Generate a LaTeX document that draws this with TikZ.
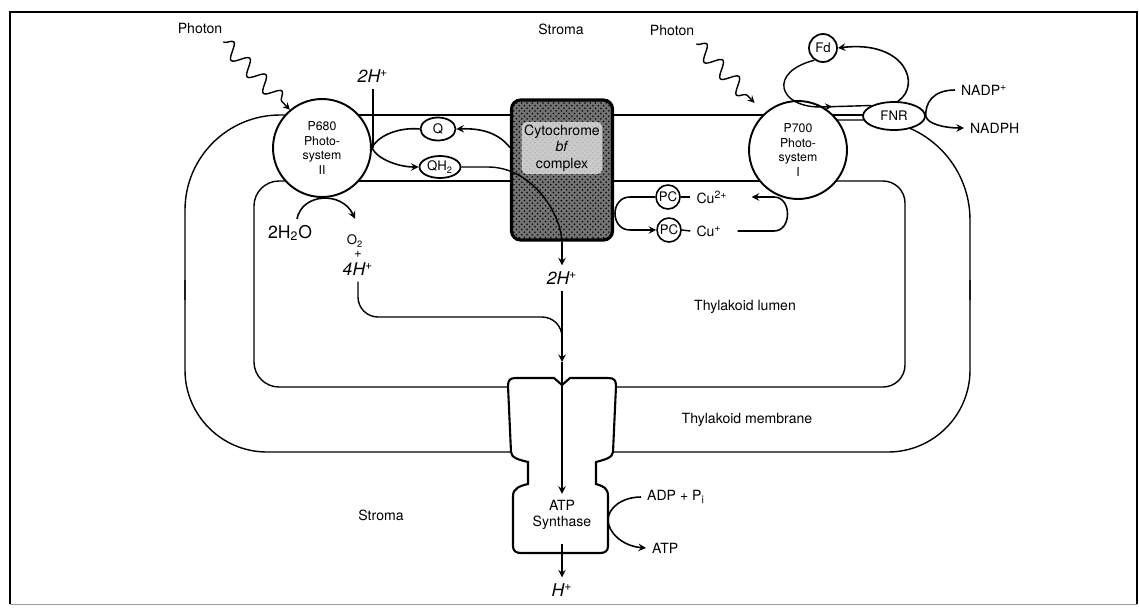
\documentclass[tikz,border=0pt]{standalone}
\usepackage{fontspec}
\setmainfont{TeX Gyre Heros}
\usetikzlibrary{shapes.geometric, decorations.pathmorphing, decorations.markings, patterns}

\tikzset{
  memb/.style={line width=0.8pt},
  flow/.style={->, line width=0.9pt},
  psys/.style={circle, draw, line width=1.1pt, fill=white, minimum size=1.96cm, inner sep=0pt, align=center, font=\fontsize{7}{8.5}\selectfont},
  carrier/.style={ellipse, draw, line width=1pt, fill=white, inner sep=0pt, font=\fontsize{7.5}{8}\selectfont},
  pcnode/.style={circle, draw, line width=0.9pt, fill=white, inner sep=0pt, minimum size=0.48cm, font=\fontsize{7.5}{8}\selectfont},
  lbl/.style={font=\fontsize{8}{9.5}\selectfont},
  hand/.style={font=\itshape\fontsize{10}{12}\selectfont},
  photon/.style={->, line width=0.8pt, decorate, decoration={snake, amplitude=1.5mm, segment length=4.6mm, post length=1.5mm}},
  cytbox/.style={draw, line width=1.8pt, rounded corners=0.18cm, minimum width=2.02cm, minimum height=2.8cm, preaction={fill=black!55}, pattern=crosshatch dots, pattern color=black},
  synth/.style={line width=1.2pt, fill=white},
}

\begin{document}
\begin{tikzpicture}[x=0.02cm, y=-0.02cm, >=stealth]
  \useasboundingbox (0,0) rectangle (1139,609);

  % Frame
  \draw[line width=1.6pt] (10,604) -- (10,12) -- (1137,12) -- (1137,604);
  \draw[line width=0.4pt, black!40] (10,604) -- (1137,604);

  % Outer membrane
  \draw[memb] (322,115) -- (894,115);
  \draw[memb, rounded corners=1.9cm] (322,115) -- (185,115) -- (185,300);
  \draw[memb, rounded corners=1.64cm] (185,280) -- (185,452) -- (562,452);
  \draw[memb, rounded corners=1.64cm] (562,452) -- (970,452) -- (970,280);
  \draw[memb, rounded corners=2cm] (970,300) -- (970,120) -- (798,120);

  % Inner membrane (lumen)
  \draw[memb] (322,181) -- (798,181);
  \draw[memb, rounded corners=0.5cm] (322,181) -- (254,181) -- (254,387) -- (562,387);
  \draw[memb, rounded corners=0.44cm] (798,181) -- (905,181) -- (905,387) -- (562,387);

  % ATP synthase
  \draw[synth] (511,452) -- (508,386) .. controls (508,380) and (510,378) .. (516,378) -- (554,378) -- (562,385) -- (570,378) -- (608,378)
    .. controls (614,378) and (616,380) .. (616,386) -- (613,452) .. controls (613,458) and (603,460) .. (596,462) -- (596,484)
    .. controls (603,486) and (608,488) .. (608,496) -- (608,546) .. controls (608,551) and (605,553) .. (600,553) -- (521,553)
    .. controls (516,553) and (513,551) .. (513,546) -- (513,496) .. controls (513,488) and (520,486) .. (528,484) -- (528,462)
    .. controls (520,460) and (511,458) .. (511,452) -- cycle;
  \node[lbl, align=center] (atp) at (562,515) {ATP\\Synthase};

  % Complexes and carriers
  \node[psys] (pII) at (322,148) {P680\\Photo-\\system\\II};
  \node[psys] (pI) at (798,150) {P700\\Photo-\\system\\I};
  \node[cytbox] (cyt) at (562,170) {};
  \node[lbl, align=center, fill=black!12, fill opacity=0.8, text opacity=1, rounded corners=3pt, inner sep=1.5pt] (cyttxt) at (562,148) {Cytochrome\\\textit{bf}\\complex};
  \node[carrier, minimum width=0.7cm, minimum height=0.46cm] (q) at (438,129) {Q};
  \node[carrier, minimum width=0.82cm, minimum height=0.44cm] (qh) at (440,167) {QH\textsubscript{2}};
  \node[pcnode] (pc1) at (668,197) {PC};
  \node[pcnode] (pc2) at (669,230) {PC};
  \node[carrier, circle, minimum size=0.56cm] (fd) at (823,48) {Fd};
  \node[carrier, minimum width=1.24cm, minimum height=0.56cm] (fnr) at (894,116) {FNR};

  % Labels
  \node[lbl] (ph1) at (200,28) {Photon};
  \node[lbl] (ph2) at (672,30) {Photon};
  \node[lbl] (stromatop) at (561,29) {Stroma};
  \node[lbl] (stromabot) at (381,515) {Stroma};
  \node[lbl] (lumen) at (745,307) {Thylakoid lumen};
  \node[lbl] (membrane) at (747,420) {Thylakoid membrane};
  \node[hand] (h2a) at (373,76) {2H\textsuperscript{+}};
  \node[hand, font=\fontsize{10}{12}\selectfont] (h2o) at (290,233) {2H\textsubscript{2}O};
  \node[lbl, font=\fontsize{7.5}{8}\selectfont] (o2) at (355,241) {O\textsubscript{2}};
  \node[lbl, font=\fontsize{7.5}{8}\selectfont] (plus) at (358,254) {+};
  \node[hand] (h4) at (358,269) {4H\textsuperscript{+}};
  \node[hand] (h2b) at (562,278) {2H\textsuperscript{+}};
  \node[hand] (hout) at (562,590) {H\textsuperscript{+}};
  \node[lbl] (cu1) at (712,197) {Cu\textsuperscript{2+}};
  \node[lbl] (cu2) at (709,231) {Cu\textsuperscript{+}};
  \node[lbl, anchor=west] (nadp) at (955,90) {NADP\textsuperscript{+}};
  \node[lbl, anchor=west] (nadph) at (964,128) {NADPH};
  \node[lbl, anchor=west] (adp) at (641,497) {ADP + P\textsubscript{i}};
  \node[lbl, anchor=west] (atpout) at (646,548) {ATP};

  % Photons
  \draw[photon] ([xshift=-0.1cm, yshift=-0.05cm]ph1.south east) -- (pII.130);
  \draw[photon] ([xshift=-0.08cm, yshift=-0.05cm]ph2.south east) -- ([shift={(-0.2cm,0.2cm)}]pI.132);

  % Photosystem II side
  \draw[memb] (h2a.south) -- (h2a.south |- pII.east);
  \draw[flow] (q.west) .. controls (400,127) and (378,135) .. (pII.east) .. controls (378,160) and (400,167) .. (qh.west);
  \draw[flow] ([yshift=0.45cm]cyt.west) .. controls (500,135) and (485,128) .. (q.east);
  \draw[memb] (qh.east) -- (488,167) .. controls (530,167) and (560,210) .. (cyt.south);
  \draw[flow] ([xshift=0.14cm]h2o.north) .. controls (302,193) and (342,191) .. ([yshift=0.2cm]o2.north);

  % Protons to ATP synthase
  \coordinate (atptop) at (562,362);
  \draw[flow] (cyt.south) -- (h2b.north);
  \draw[flow] (h2b.south) -- (atptop);
  \draw[memb, rounded corners=0.4cm] (h4.south) |- (562,317) -- (562,345);
  \draw[flow] (atptop) -- (atp.north);
  \draw[flow] ([yshift=-0.15cm]atp.south) -- (hout.north);
  \draw[flow] (adp.west) .. controls (622,497) and (608,508) .. (608,520) .. controls (608,532) and (622,546) .. (atpout.west);

  % Plastocyanin
  \draw[memb] (pc1.east) -- (cu1.west);
  \draw[memb] (pc2.east) -- (cu2.west);
  \draw[flow] (pc1.west) -- (630,197) .. controls (610,197) and (610,230) .. (630,230) -- (pc2.west);
  \draw[flow] ([xshift=0.2cm]cu2.east) -- (774,231) .. controls (792,231) and (792,197) .. (774,197) -- ([xshift=0.36cm]cu1.east);

  % Ferredoxin and FNR
  \draw[memb, postaction={decorate}, decoration={markings, mark=at position 0.72 with {\arrow{stealth}}}]
    (fd.235) .. controls (768,72) and (778,107) .. (820,107) -- (fnr.155);
  \draw[flow] (fnr.75) .. controls (922,85) and (905,40) .. (fd.east);
  \draw[flow] (nadp.west) .. controls (932,90) and (925,104) .. (fnr.east) .. controls (927,124) and (945,128) .. (nadph.west);
\end{tikzpicture}
\end{document}
